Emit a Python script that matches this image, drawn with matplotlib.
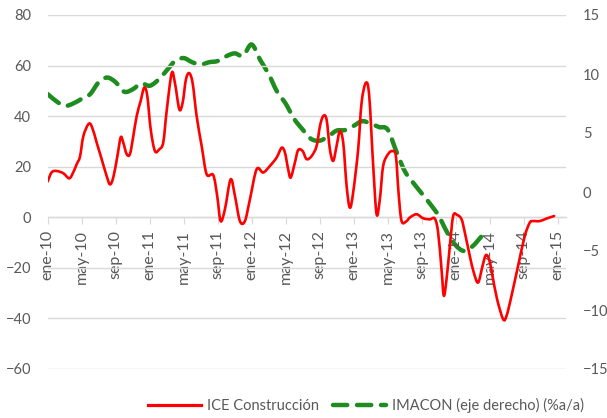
import matplotlib
matplotlib.use("Agg")
import matplotlib.pyplot as plt
from matplotlib.path import Path
from matplotlib.patches import PathPatch
from matplotlib.lines import Line2D

plt.rcParams['font.family'] = ['Lato', 'DejaVu Sans']

# x axis: months since ene-10 (0 = ene-10)
tick_months = [0, 4, 8, 12, 16, 20, 24, 28, 32, 36, 40, 44, 48, 52, 56, 60]
tick_labels = ['ene-10', 'may-10', 'sep-10', 'ene-11', 'may-11', 'sep-11', 'ene-12', 'may-12',
               'sep-12', 'ene-13', 'may-13', 'sep-13', 'ene-14', 'may-14', 'sep-14', 'ene-15']

# ICE Construcción (left axis), sampled in fractional months
ice_months = [0.0, 0.47, 1.06, 1.84, 2.54, 3.01, 3.41, 3.8, 4.19, 4.78, 5.18, 5.76, 6.35, 6.94,
              7.33, 7.72, 8.19, 8.59, 8.89, 9.29, 9.68, 10.07, 10.47, 10.94, 11.36, 11.72, 12.12,
              12.62, 13.13, 13.6, 14.0, 14.59, 14.98, 15.49, 15.88, 16.27, 16.66, 17.06, 17.53,
              18.12, 18.71, 19.48, 19.95, 20.35, 20.86, 21.53, 22.04, 22.62, 23.21, 23.8, 24.59,
              25.36, 26.15, 26.94, 27.53, 27.92, 28.3, 28.6, 29.09, 29.48, 30.0, 30.47, 31.06,
              31.65, 32.04, 32.42, 32.82, 33.21, 33.6, 34.0, 34.38, 34.78, 35.18, 35.56, 35.95,
              36.54, 36.94, 37.45, 37.84, 38.31, 38.71, 39.09, 39.48, 40.07, 40.59, 40.98, 41.29,
              41.65, 42.24, 42.62, 43.41, 44.19, 44.98, 45.56, 45.95, 46.35, 46.62, 46.94, 47.33,
              47.72, 48.19, 48.71, 49.09, 49.68, 50.15, 50.66, 51.18, 51.56, 51.95, 52.35, 52.89,
              53.6, 54.0, 54.59, 55.36, 56.15, 56.74, 57.13, 57.91, 58.71, 59.6]
ice_values = [14.2, 17.8, 18.3, 17.4, 15.4, 17.8, 21.0, 24.0, 32.0, 36.8, 36.0, 29.6, 23.0, 16.3,
              13.0, 15.8, 24.0, 31.6, 29.6, 25.0, 25.0, 32.0, 40.0, 46.0, 51.3, 48.0, 34.8,
              26.2, 26.9, 29.6, 42.0, 57.0, 53.0, 42.7, 45.3, 54.5, 57.0, 53.0, 40.0,
              28.2, 17.0, 16.7, 8.4, -1.5, 3.2, 15.0, 8.4, -1.5, -1.5, 7.1, 19.0,
              17.7, 20.3, 23.6, 27.5, 25.6, 19.0, 15.7, 21.6, 26.6, 26.2, 23.0, 24.2,
              28.2, 36.0, 40.0, 38.7, 26.9, 22.3, 28.2, 34.0, 29.5, 12.4, 3.8, 9.8,
              26.9, 45.3, 53.2, 48.0, 20.3, 1.2, 7.1, 20.3, 25.0, 26.2, 24.2, 9.8,
              -1.5, -1.5, -0.1, 1.2, -0.4, -0.8, -0.5, -6.0, -20.6, -31.0, -24.5, -11.3,
              0.5, 0.9, -0.8, -6.0, -15.3, -21.9, -25.8, -19.2, -15.0, -16.6, -23.2, -32.4,
              -40.3, -39.0, -31.0, -19.2, -7.4, -2.1, -1.5, -1.5, -0.5, 0.5]

# IMACON (right axis, %a/a), monthly from ene-10
imacon_months = list(range(52))
imacon_values = [8.3, 7.7, 7.3, 7.5, 7.9, 8.3, 9.3, 9.7, 9.3, 8.5, 8.7, 9.2, 9.0, 9.5, 10.3,
                 11.1, 11.35, 11.0, 10.8, 11.0, 11.1, 11.5, 11.75, 11.55, 12.5, 11.2, 10.0,
                 8.5, 7.5, 6.2, 5.3, 4.5, 4.35, 4.7, 5.2, 5.25, 5.6, 6.0, 5.8, 5.5, 5.3, 3.5,
                 1.8, 0.8, -0.1, -1.0, -2.0, -3.4, -4.5, -5.0, -4.6, -3.8]

grey = '#595959'
grid_c = '#d9d9d9'
red = '#ff0000'
green = '#1e8c1e'


def smooth_path(xs, ys, tension=1 / 6):
    """Excel-like smoothed line: cubic Bezier segments through the data points."""
    verts = [(xs[0], ys[0])]
    codes = [Path.MOVETO]
    n = len(xs)
    for i in range(n - 1):
        x0, y0 = (xs[i - 1], ys[i - 1]) if i > 0 else (xs[i], ys[i])
        x1, y1 = xs[i], ys[i]
        x2, y2 = xs[i + 1], ys[i + 1]
        x3, y3 = (xs[i + 2], ys[i + 2]) if i + 2 < n else (x2, y2)
        c1 = (x1 + (x2 - x0) * tension, y1 + (y2 - y0) * tension)
        c2 = (x2 - (x3 - x1) * tension, y2 - (y3 - y1) * tension)
        verts += [c1, c2, (x2, y2)]
        codes += [Path.CURVE4] * 3
    return Path(verts, codes)


fig = plt.figure(figsize=(6.07, 4.18), dpi=100)
ax = fig.add_axes([47.7 / 607, 1 - 369 / 418, (566 - 47.7) / 607, (369 - 15) / 418])
ax2 = ax.twinx()

ax.set_xlim(0, 61)
ax.set_ylim(-60, 80)
ax.set_yticks(range(-60, 81, 20))
ax.yaxis.grid(True, color=grid_c, linewidth=1.0)
ax.set_axisbelow(True)
for s in ['top', 'right', 'left']:
    ax.spines[s].set_visible(False)
ax.spines['bottom'].set_position(('data', 0))
ax.spines['bottom'].set_color(grid_c)
ax.spines['bottom'].set_linewidth(1.0)
ax.set_xticks(tick_months)
ax.set_xticklabels(tick_labels, rotation=90, color=grey, fontsize=11.5)
ax.tick_params(axis='x', direction='out', length=5, color=grid_c, pad=4)
ax.tick_params(axis='y', length=0, pad=12, labelcolor=grey, labelsize=10.5)

ax2.set_ylim(-15, 15)
ax2.set_yticks(range(-15, 16, 5))
for s in ['top', 'right', 'left', 'bottom']:
    ax2.spines[s].set_visible(False)
ax2.tick_params(axis='y', length=0, pad=12, labelcolor=grey, labelsize=10.5)

ax.add_patch(PathPatch(smooth_path(ice_months, ice_values), fill=False, edgecolor=red,
                       linewidth=1.9, zorder=3, joinstyle='round', capstyle='round'))
ax2.add_patch(PathPatch(smooth_path(imacon_months, imacon_values), fill=False,
                        edgecolor=green, linewidth=3.2, linestyle=(0, (3.2, 2.2)),
                        capstyle='round', zorder=2))
ax.set_zorder(ax2.get_zorder() + 1)
ax.patch.set_visible(False)

h1 = Line2D([], [], color=red, linewidth=2.3, label='ICE Construcción')
h2 = Line2D([], [], color=green, linewidth=3.2, dashes=(3.2, 2.2), dash_capstyle='round',
            label='IMACON (eje derecho) (%a/a)')
fig.legend(handles=[h1, h2], loc='center', bbox_to_anchor=(0.603, 0.029), ncol=2,
           frameon=False, fontsize=10.5, handlelength=3.6, handletextpad=0.4,
           columnspacing=1.0, labelcolor=grey)

fig.savefig('out.png', dpi=100)
